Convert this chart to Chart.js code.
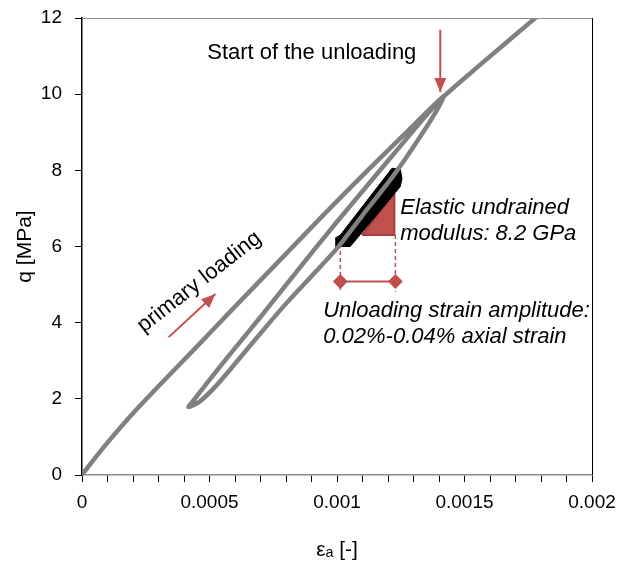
<!DOCTYPE html>
<html>
<head>
<meta charset="utf-8">
<script src="https://cdn.jsdelivr.net/npm/chart.js@4.4.1/dist/chart.umd.min.js"></script>
<style>
  html, body { margin: 0; padding: 0; background: #fff; }
</style>
</head>
<body>
<canvas id="chart" width="621" height="572"></canvas>
<script>
// gray test curve: primary loading, unloading, reloading, continued loading
const primaryStrain = [0, 0.00004, 0.0001, 0.0002, 0.0003, 0.00044, 0.0006, 0.00078, 0.00095, 0.00112, 0.00128, 0.00136, 0.00142];
const primaryQ      = [0, 0.35, 0.85, 1.62, 2.33, 3.3, 4.42, 5.67, 6.85, 8.0, 9.05, 9.58, 9.95];
const unloadStrain  = [0.00138, 0.0013, 0.00122, 0.0011, 0.001, 0.0009, 0.0008, 0.0007, 0.0006, 0.00052, 0.00046, 0.000418];
const unloadQ       = [9.45, 8.62, 7.85, 6.82, 5.95, 5.22, 4.5, 3.72, 2.92, 2.3, 1.92, 1.79];
const reloadStrain  = [0.00044, 0.0005, 0.0006, 0.0007, 0.00078, 0.00091, 0.001, 0.0011, 0.0012, 0.0013, 0.00137, 0.00142];
const reloadQ       = [1.98, 2.5, 3.33, 4.15, 4.82, 5.91, 6.65, 7.45, 8.25, 9.05, 9.6, 9.95];
const reloadOnStrain = [0.0015, 0.00164, 0.00179];
const reloadOnQ      = [10.42, 11.22, 12.07];

// black band of small unloading cycles
const cycleStrain = [0.000993, 0.001013, 0.0012157, 0.001248, 0.001255, 0.001248, 0.001052, 0.000993];
const cycleQ      = [6.22, 6.30, 8.054, 8.028, 7.79, 7.57, 6.0, 6.0];

// modulus triangle
const slopeStrain = [0.001098, 0.001225, 0.001225];
const slopeQ      = [6.30, 6.30, 7.40];

// strain amplitude markers
const ampStrain = [0.001013, 0.001229];
const ampQ = 5.08;
const ampDashTop = [6.25, 6.30];
const ampDashBottom = 4.81;

// arrows [start, end]
const unloadArrowStrain = [0.001405, 0.001405];
const unloadArrowQ = [11.69, 10.06];
const primaryArrowStrain = [0.00034, 0.000523];
const primaryArrowQ = [3.62, 4.75];

const yTicks = [0, 2, 4, 6, 8, 10, 12];

const RED = '#c0504d';

function pts(xs, ys) {
    return xs.map((x, i) => ({ x: x, y: Array.isArray(ys) ? ys[i] : ys }));
}

const curve = pts(primaryStrain, primaryQ)
    .concat(pts(unloadStrain, unloadQ))
    .concat(pts(reloadStrain, reloadQ))
    .concat(pts(reloadOnStrain, reloadOnQ));

const notes = [
    { lines: ['Start of the unloading'], x: 0.000491, y: 11.08, italic: false, angle: 0, align: 'left' },
    { lines: ['primary loading'], x: 0.00046, y: 5.07, italic: false, angle: -38, align: 'center' },
    { lines: ['Elastic undrained', 'modulus: 8.2 GPa'], x: 0.001248, y: 7.02, italic: true, angle: 0, align: 'left' },
    { lines: ['Unloading strain amplitude:', '0.02%-0.04% axial strain'], x: 0.000946, y: 4.31, italic: true, angle: 0, align: 'left' }
];

const notesPlugin = {
    id: 'notes',
    afterDatasetsDraw(chart) {
        const ctx = chart.ctx;
        const xs = chart.scales.x, ys = chart.scales.y;
        const lineGap = ys.getPixelForValue(0) - ys.getPixelForValue(0.69);
        notes.forEach(n => {
            ctx.save();
            ctx.translate(xs.getPixelForValue(n.x), ys.getPixelForValue(n.y));
            ctx.rotate(n.angle * Math.PI / 180);
            ctx.font = (n.italic ? 'italic ' : '') + '22px "Liberation Sans", Arial, sans-serif';
            ctx.fillStyle = '#000';
            ctx.textAlign = n.align;
            ctx.textBaseline = 'middle';
            n.lines.forEach((t, i) => ctx.fillText(t, 0, i * lineGap));
            ctx.restore();
        });
    }
};

const arrowPlugin = {
    id: 'arrowHeads',
    afterDatasetsDraw(chart) {
        const ctx = chart.ctx;
        chart.data.datasets.forEach((ds, i) => {
            if (!ds.arrowHead) return;
            const p = chart.getDatasetMeta(i).data;
            const a = p[p.length - 2], b = p[p.length - 1];
            const ang = Math.atan2(b.y - a.y, b.x - a.x);
            ctx.save();
            ctx.translate(b.x, b.y);
            ctx.rotate(ang);
            ctx.fillStyle = RED;
            ctx.beginPath();
            ctx.moveTo(0, 0);
            ctx.lineTo(-14, -6);
            ctx.lineTo(-14, 6);
            ctx.closePath();
            ctx.fill();
            ctx.restore();
        });
    }
};

const framePlugin = {
    id: 'frame',
    afterDraw(chart) {
        const { left, right, top, bottom } = chart.chartArea;
        const ctx = chart.ctx;
        ctx.save();
        ctx.lineWidth = 1;
        ctx.strokeStyle = '#8c8c8c';
        ctx.beginPath();
        ctx.moveTo(left, top + 0.5);
        ctx.lineTo(right, top + 0.5);
        ctx.stroke();
        ctx.strokeStyle = '#000';
        ctx.beginPath();
        ctx.moveTo(right + 0.5, top);
        ctx.lineTo(right + 0.5, bottom);
        ctx.stroke();
        ctx.restore();
    }
};

function lineSet(data, opts) {
    return Object.assign({
        data: data,
        showLine: true,
        pointRadius: 0,
        borderColor: RED,
        borderWidth: 2,
        tension: 0,
        fill: false
    }, opts);
}

new Chart(document.getElementById('chart').getContext('2d'), {
    type: 'scatter',
    data: {
        datasets: [
            lineSet(curve, { borderColor: '#808080', borderWidth: 4.5, tension: 0.25 }),
            lineSet(pts(cycleStrain, cycleQ), { borderColor: '#000', backgroundColor: '#000', borderWidth: 1, fill: 'shape' }),
            lineSet(pts(slopeStrain, slopeQ).concat([{ x: slopeStrain[0], y: slopeQ[0] }]),
                { borderColor: '#a33f3c', backgroundColor: RED, borderWidth: 2, borderJoinStyle: 'round', fill: 'shape' }),
            lineSet(pts([ampStrain[0], ampStrain[0]], [ampDashTop[0], ampDashBottom]), { borderWidth: 1.5, borderDash: [4, 3] }),
            lineSet(pts([ampStrain[1], ampStrain[1]], [ampDashTop[1], ampDashBottom]), { borderWidth: 1.5, borderDash: [4, 3] }),
            lineSet(pts(ampStrain, ampQ), { borderWidth: 2, pointRadius: 6, pointStyle: 'rectRot', pointBackgroundColor: RED, pointBorderColor: RED }),
            lineSet(pts(unloadArrowStrain, unloadArrowQ), { arrowHead: true }),
            lineSet(pts(primaryArrowStrain, primaryArrowQ), { arrowHead: true })
        ]
    },
    options: {
        responsive: false,
        animation: false,
        layout: { padding: { left: 0, top: 18, right: 29, bottom: 0 } },
        plugins: {
            legend: { display: false },
            tooltip: { enabled: false }
        },
        scales: {
            x: {
                type: 'linear',
                min: 0,
                max: 0.002,
                afterFit: s => { s.height = 97; s.paddingLeft = 0; s.paddingRight = 0; },
                border: { color: '#8c8c8c', width: 1.5 },
                grid: { drawOnChartArea: false, drawTicks: true, tickLength: 7, color: '#000' },
                ticks: {
                    stepSize: 0.0001,
                    autoSkip: false,
                    maxTicksLimit: 50,
                    maxRotation: 0,
                    padding: 9,
                    color: '#000',
                    font: { family: '"Liberation Sans", Arial, sans-serif', size: 19 },
                    callback: v => {
                        const n = Math.round(v * 1e4);
                        return n % 5 === 0 ? String(n / 1e4) : '';
                    }
                },
                title: {
                    display: true,
                    text: 'εₐ [-]',
                    color: '#000',
                    font: { family: '"Liberation Sans", "DejaVu Sans", sans-serif', size: 21 },
                    padding: { top: 0, bottom: 9 }
                }
            },
            y: {
                type: 'linear',
                min: 0,
                max: 12,
                afterFit: s => { s.width = 82; s.paddingTop = 0; s.paddingBottom = 0; },
                afterBuildTicks: s => { s.ticks = yTicks.map(v => ({ value: v })); },
                border: { color: '#000', width: 1.5 },
                grid: { drawOnChartArea: false, drawTicks: true, tickLength: 7, color: '#000' },
                ticks: {
                    padding: 13,
                    color: '#000',
                    font: { family: '"Liberation Sans", Arial, sans-serif', size: 19 }
                },
                title: {
                    display: true,
                    text: 'q [MPa]',
                    color: '#000',
                    font: { family: '"Liberation Sans", Arial, sans-serif', size: 21 },
                    padding: { top: 13, bottom: 0 }
                }
            }
        }
    },
    plugins: [notesPlugin, arrowPlugin, framePlugin]
});
</script>
</body>
</html>
